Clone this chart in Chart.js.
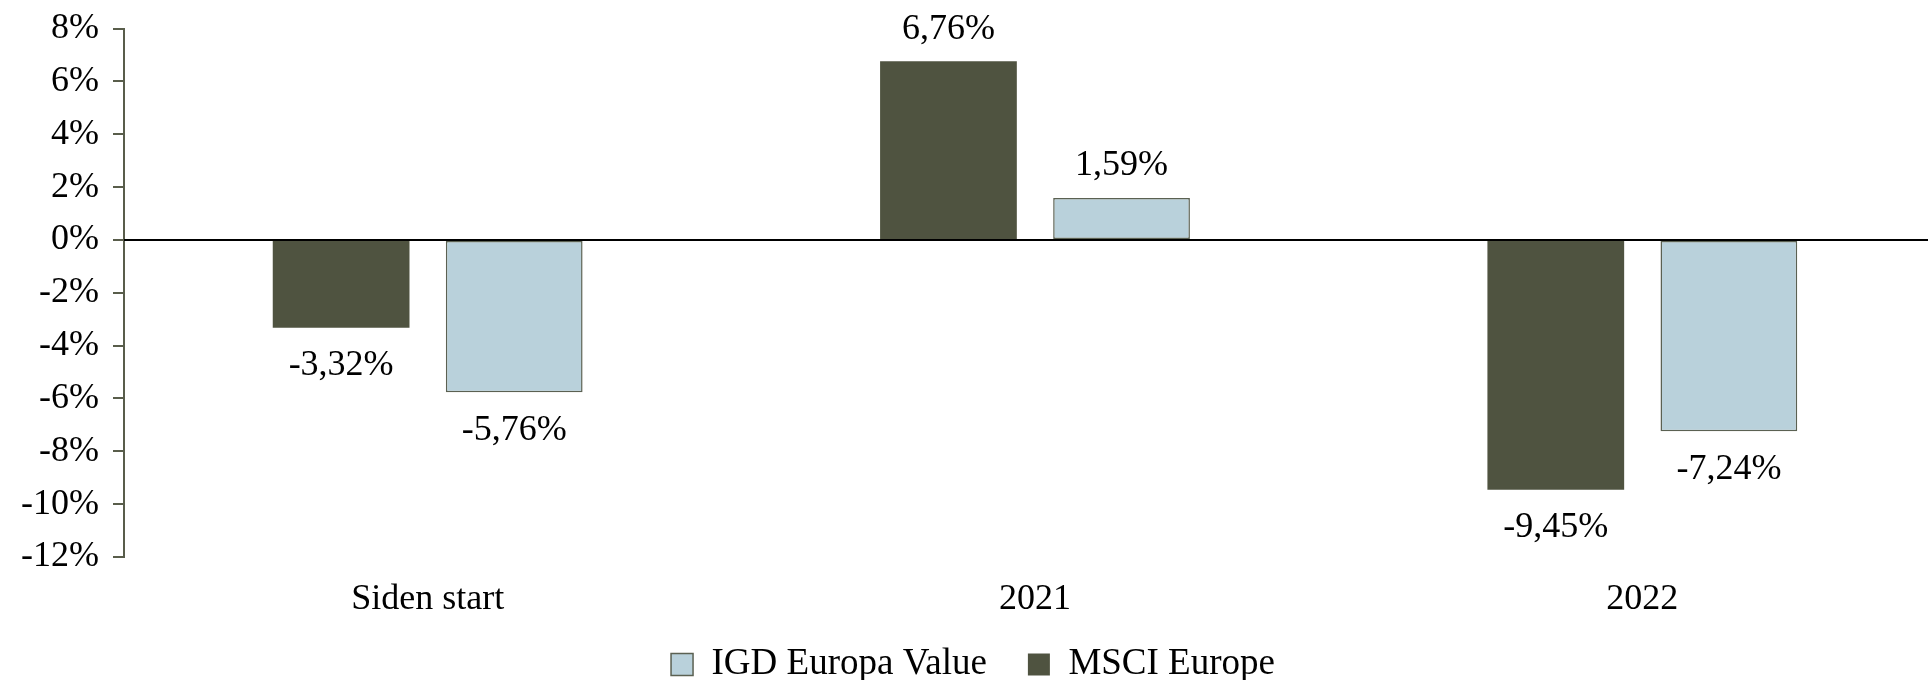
<!DOCTYPE html>
<html>
<head>
<meta charset="utf-8">
<script src="https://cdn.jsdelivr.net/npm/chart.js@4/dist/chart.umd.min.js"></script>
<style>
  html, body { margin: 0; padding: 0; background: white; overflow: hidden; }
  #wrap { width: 1946px; height: 700px; margin-top: -7px; }
</style>
</head>
<body>
<div id="wrap"><canvas id="myChart"></canvas></div>
<script>
const categorias = ['Siden start', '2021', '2022']
const msciEurope = [-3.32, 6.76, -9.45]
const igdEuropaValue = [-5.76, 1.59, -7.24]
const yMin = -12
const yMax = 8
const yStep = 2

const fuente = 'Liberation Serif'
const oscuro = '#4F5340'
const claro = '#B9D1DB'
const ejeColor = '#595D4B'

const formato = (v) => v.toFixed(2).replace('.', ',') + '%'

const etiquetas = {
    id: 'etiquetas',
    afterDatasetsDraw(chart) {
        const ctx = chart.ctx
        ctx.save()
        ctx.font = `36px "${fuente}"`
        ctx.fillStyle = '#000'
        ctx.textAlign = 'center'
        ctx.textBaseline = 'middle'
        chart.data.datasets.forEach((ds, i) => {
            chart.getDatasetMeta(i).data.forEach((bar, j) => {
                const v = ds.data[j]
                const y = v >= 0 ? bar.y - 32 : bar.y + 38
                ctx.fillText(formato(v), bar.x, y)
            })
        })
        ctx.restore()
    }
}

const lineaCero = {
    id: 'lineaCero',
    afterDatasetsDraw(chart) {
        const ctx = chart.ctx
        const y = chart.scales.y.getPixelForValue(0)
        ctx.save()
        ctx.strokeStyle = '#000'
        ctx.lineWidth = 2
        ctx.beginPath()
        ctx.moveTo(chart.chartArea.left, y)
        ctx.lineTo(chart.chartArea.right, y)
        ctx.stroke()
        ctx.restore()
    }
}

const datasets = [
    {
        label: 'MSCI Europe',
        data: msciEurope,
        backgroundColor: oscuro,
        borderColor: oscuro,
        borderWidth: 0
    },
    {
        label: 'IGD Europa Value',
        data: igdEuropaValue,
        backgroundColor: claro,
        borderColor: '#5B6152',
        borderWidth: 1.5,
        borderSkipped: false
    }
]

const config = {
    type: 'bar',
    data: { labels: categorias, datasets },
    options: {
        responsive: true,
        maintainAspectRatio: false,
        animation: false,
        categoryPercentage: 0.57,
        barPercentage: 0.79,
        layout: { padding: 0 },
        plugins: {
            tooltip: { enabled: false },
            legend: {
                position: 'bottom',
                reverse: true,
                labels: {
                    color: '#000',
                    font: { family: fuente, size: 37 },
                    boxWidth: 22,
                    boxHeight: 22,
                    padding: 4,
                    generateLabels: (chart) => {
                        const items = Chart.defaults.plugins.legend.labels.generateLabels(chart)
                        items.forEach((it) => {
                            if (it.datasetIndex === 1) it.text = it.text + '    '
                        })
                        return items
                    }
                }
            }
        },
        scales: {
            x: {
                grid: { display: false },
                border: { display: false },
                ticks: {
                    color: '#000',
                    font: { family: fuente, size: 36 },
                    padding: 13
                },
                afterFit: (scale) => { scale.height = 85 }
            },
            y: {
                min: yMin,
                max: yMax,
                ticks: {
                    stepSize: yStep,
                    color: '#000',
                    font: { family: fuente, size: 36 },
                    padding: 14,
                    callback: (v) => v + '%'
                },
                grid: {
                    drawOnChartArea: false,
                    drawTicks: true,
                    tickLength: 11,
                    color: ejeColor,
                    lineWidth: 2
                },
                border: { display: true, color: ejeColor, width: 2 },
                afterFit: (scale) => { scale.width = 124 }
            }
        }
    },
    plugins: [etiquetas, lineaCero]
}

const grafico = document.querySelector('#myChart')
new Chart(grafico, config)
</script>
</body>
</html>
